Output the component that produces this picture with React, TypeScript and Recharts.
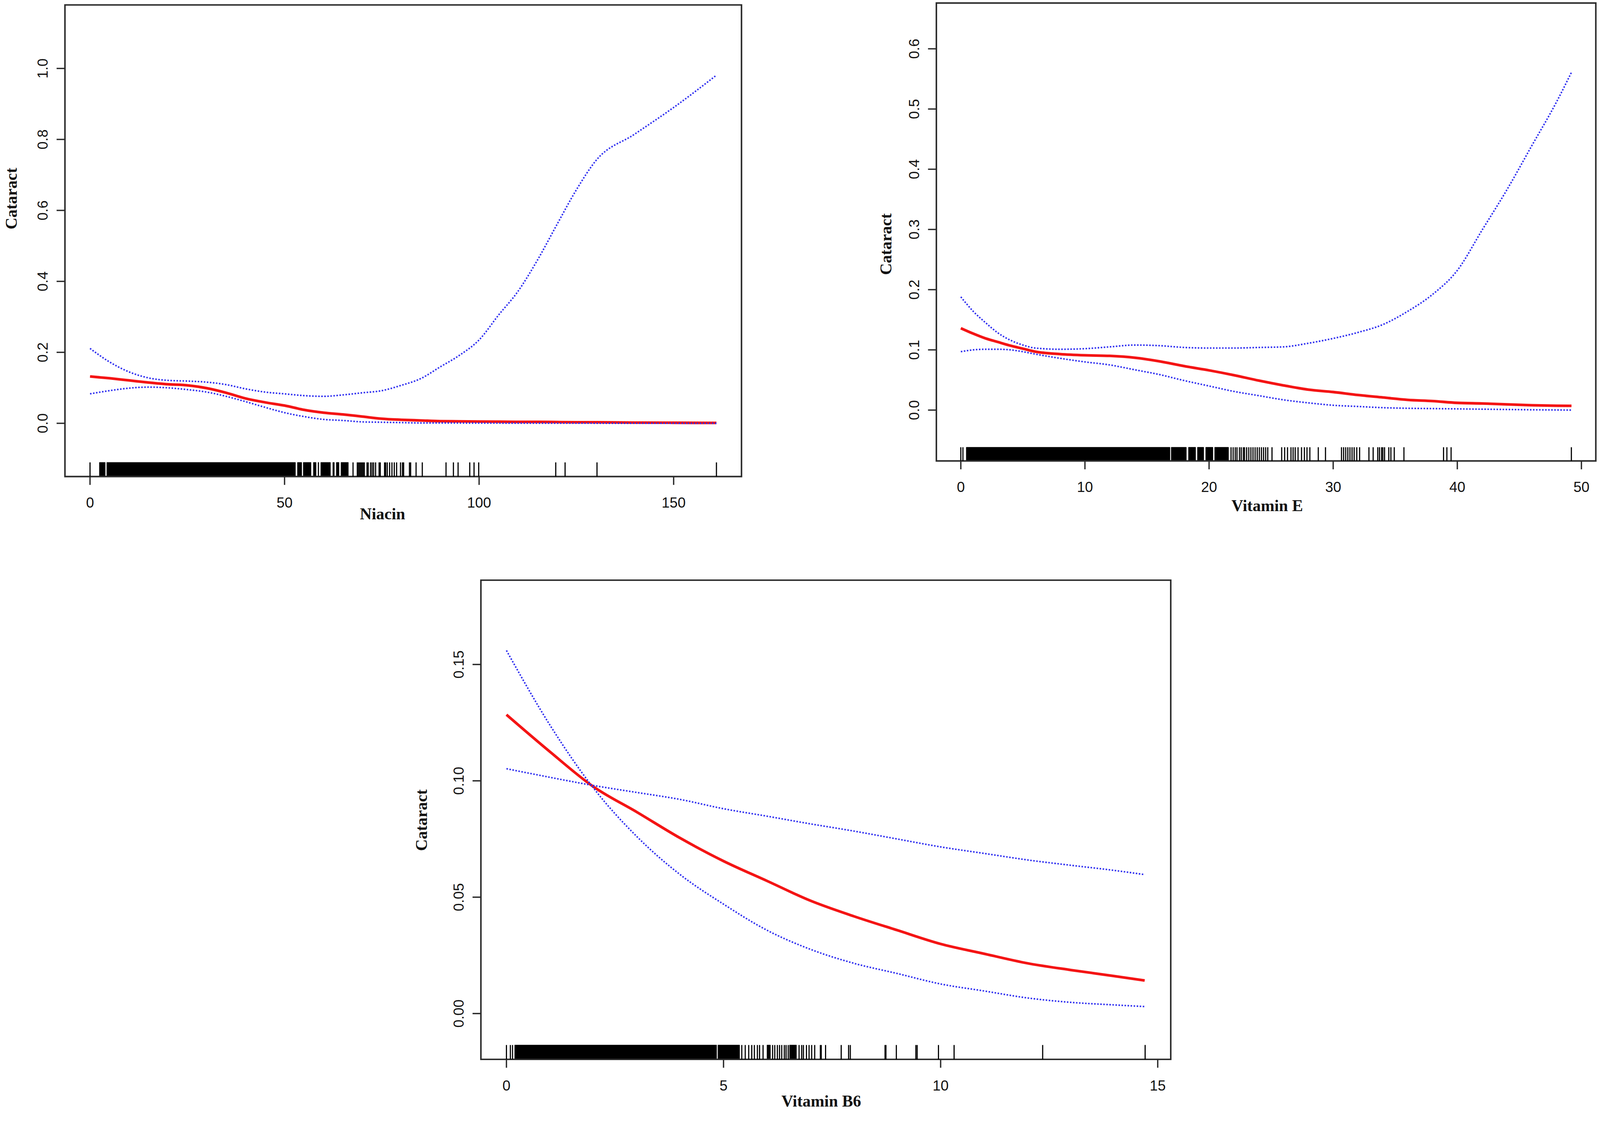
import React from 'react';
import { ComposedChart, Line, XAxis, YAxis, ReferenceLine, ReferenceArea } from 'recharts';

// ---------- Panel 1: Niacin ----------
const niacinX = [0, 5, 10, 15, 20, 25, 30, 35, 40, 45, 50, 55, 60, 65, 70, 75, 80, 85, 90, 95, 100, 105, 110, 115, 120, 125, 130, 140, 150, 161];
const niacinFit = [0.132, 0.127, 0.121, 0.115, 0.11, 0.107, 0.099, 0.086, 0.07, 0.059, 0.05, 0.038, 0.03, 0.025, 0.019, 0.013, 0.01, 0.008, 0.006, 0.0055, 0.005, 0.0045, 0.004, 0.004, 0.0035, 0.003, 0.003, 0.002, 0.0015, 0.001];
const niacinUpper = [0.211, 0.173, 0.145, 0.128, 0.121, 0.119, 0.116, 0.109, 0.097, 0.088, 0.083, 0.078, 0.076, 0.08, 0.086, 0.092, 0.107, 0.126, 0.159, 0.192, 0.235, 0.305, 0.372, 0.46, 0.56, 0.658, 0.74, 0.815, 0.89, 0.981];
const niacinLower = [0.083, 0.092, 0.099, 0.102, 0.1, 0.095, 0.088, 0.076, 0.061, 0.045, 0.03, 0.019, 0.011, 0.008, 0.004, 0.003, 0.002, 0.001, 0.001, 0.0008, 0.0006, 0.0005, 0.0004, 0.0004, 0.0003, 0.0003, 0.0002, 0.0002, 0.0001, 0.0001];
const niacinRug = [0, 67.6, 68.7, 69.0, 69.3, 69.6, 69.9, 70.2, 70.5, 71.2, 71.5, 72.1, 72.5, 72.9, 73.4, 74.3, 74.6, 75.7, 76.0, 76.4, 77.0, 77.6, 78.2, 78.8, 79.8, 80.3, 80.6, 82.1, 82.4, 83.8, 85.4, 91.5, 93.4, 94.6, 97.6, 98.7, 99.9, 119.7, 122.1, 130.3, 161.0];
const niacinRugBlocks = [[2.4, 3.9], [4.3, 52.8], [53.3, 54.4], [54.8, 56.8], [57.4, 58.1], [58.6, 58.8], [59.3, 61.8], [62.4, 62.8], [63.3, 64.0], [64.5, 66.4]];
const niacinXTicks = [0, 50, 100, 150];
const niacinYTicks = [0, 0.2, 0.4, 0.6, 0.8, 1.0];

// ---------- Panel 2: Vitamin E ----------
const vitEX = [0, 1, 2, 3, 4, 5, 6, 8, 10, 12, 14, 16, 18, 20, 22, 24, 26, 28, 30, 32, 34, 36, 38, 40, 42, 44, 46, 48, 49.2];
const vitEFit = [0.136, 0.127, 0.119, 0.113, 0.107, 0.102, 0.097, 0.093, 0.091, 0.09, 0.087, 0.081, 0.073, 0.066, 0.058, 0.049, 0.041, 0.034, 0.03, 0.025, 0.021, 0.017, 0.015, 0.012, 0.011, 0.0095, 0.008, 0.0072, 0.007];
const vitEUpper = [0.188, 0.164, 0.145, 0.128, 0.116, 0.108, 0.103, 0.101, 0.102, 0.105, 0.108, 0.107, 0.104, 0.103, 0.103, 0.104, 0.105, 0.111, 0.119, 0.129, 0.142, 0.164, 0.192, 0.232, 0.299, 0.366, 0.439, 0.512, 0.561];
const vitELower = [0.097, 0.1, 0.101, 0.101, 0.1, 0.097, 0.093, 0.086, 0.08, 0.075, 0.067, 0.059, 0.049, 0.04, 0.031, 0.024, 0.017, 0.012, 0.008, 0.006, 0.004, 0.003, 0.0025, 0.002, 0.0015, 0.001, 0.0005, 0.0002, 0];
const vitERug = [0, 0.17, 21.77, 21.94, 22.11, 22.25, 22.45, 22.59, 22.76, 22.86, 23.03, 23.2, 23.37, 23.54, 23.71, 23.88, 24.05, 24.22, 24.39, 24.56, 24.73, 25.07, 25.85, 26.09, 26.32, 26.6, 26.77, 26.94, 27.17, 27.45, 27.68, 27.89, 28.12, 28.8, 29.38, 30.67, 30.84, 31.01, 31.18, 31.35, 31.52, 31.69, 31.9, 32.13, 32.88, 33.22, 33.59, 33.73, 33.9, 34.0, 34.14, 34.48, 34.65, 34.92, 35.7, 38.89, 39.16, 39.5, 49.19];
const vitERugBlocks = [[0.44, 16.85], [16.95, 18.17], [18.34, 18.92], [19.06, 19.57], [19.73, 20.31], [20.45, 21.57]];
const vitEXTicks = [0, 10, 20, 30, 40, 50];
const vitEYTicks = [0, 0.1, 0.2, 0.3, 0.4, 0.5, 0.6];

// ---------- Panel 3: Vitamin B6 ----------
const b6X = [0, 1, 2, 3, 4, 5, 6, 7, 8, 9, 10, 11, 12, 13, 14, 14.7];
const b6Fit = [0.1284, 0.1125, 0.0975, 0.0866, 0.0754, 0.0655, 0.057, 0.0485, 0.0418, 0.0358, 0.0299, 0.0257, 0.0216, 0.0187, 0.0161, 0.0142];
const b6CiSteep = [0.156, 0.124, 0.097, 0.0761, 0.0597, 0.047, 0.0358, 0.0276, 0.0216, 0.0172, 0.0127, 0.0097, 0.0067, 0.0048, 0.0037, 0.003];
const b6CiFlat = [0.1052, 0.1015, 0.098, 0.095, 0.092, 0.088, 0.0848, 0.0815, 0.0784, 0.075, 0.0716, 0.0688, 0.066, 0.0637, 0.0615, 0.0597];
const b6Rug = [0, 0.09, 0.14, 5.42, 5.5, 5.58, 5.65, 5.71, 5.78, 5.83, 5.91, 6.13, 6.18, 6.24, 6.29, 6.34, 6.4, 6.44, 6.49, 6.74, 6.8, 6.84, 6.91, 6.97, 7.03, 7.1, 7.23, 7.25, 7.35, 7.71, 7.88, 7.92, 8.72, 8.74, 8.98, 9.43, 9.46, 9.95, 10.31, 12.35, 14.71];
const b6RugBlocks = [[0.19, 4.84], [4.87, 5.37], [6.0, 6.08], [6.52, 6.68]];
const b6XTicks = [0, 5, 10, 15];
const b6YTicks = [0, 0.05, 0.1, 0.15];

const toPts = (xs: number[], ys: number[]) => xs.map((x, i) => ({ x, y: ys[i] }));

const RED = '#f41414';
const BLUE = '#2f2ff0';
const AXIS = '#2b2b2b';
const TICK_FONT = '"Liberation Sans", Arial, sans-serif';
const TITLE_FONT = '"Liberation Serif", "Times New Roman", serif';

type PanelProps = {
  left: number; top: number; width: number; height: number;
  box: { l: number; r: number; t: number; b: number };
  xDomain: [number, number]; yDomain: [number, number];
  xTicks: number[]; yTicks: number[]; yDigits: number;
  xs: number[]; fit: number[]; ciA: number[]; ciB: number[];
  rug: number[]; rugBlocks: number[][];
};

function Panel(p: PanelProps) {
  const { box, width, height, xDomain, yDomain } = p;
  const rugTop = yDomain[0] + 0.03 * (yDomain[1] - yDomain[0]);
  const fitPts = toPts(p.xs, p.fit);
  const aPts = toPts(p.xs, p.ciA);
  const bPts = toPts(p.xs, p.ciB);
  return (
    <div style={{ position: 'absolute', left: p.left, top: p.top, width, height }}>
      <ComposedChart width={width} height={height} margin={{ top: box.t, right: width - box.r, left: 0, bottom: 0 }}>
        <XAxis
          type="number" dataKey="x" domain={xDomain} allowDataOverflow ticks={p.xTicks} interval={0}
          height={height - box.b} tickSize={22} axisLine={false}
          tickLine={{ stroke: AXIS, strokeWidth: 3.5 }}
          tick={(t: any) => (
            <text x={t.x} y={box.b + 68} dy="0.36em" textAnchor="middle" fontFamily={TICK_FONT} fontSize={38} fill="#111">
              {String(t.payload.value)}
            </text>
          )}
        />
        <YAxis
          type="number" domain={yDomain} allowDataOverflow ticks={p.yTicks} interval={0}
          width={box.l} tickSize={22} axisLine={false}
          tickLine={{ stroke: AXIS, strokeWidth: 3.5 }}
          tick={(t: any) => {
            const cx = box.l - 59;
            return (
              <text x={cx} y={t.y} dy="0.36em" textAnchor="middle" transform={`rotate(-90 ${cx} ${t.y})`}
                fontFamily={TICK_FONT} fontSize={38} fill="#111">
                {Number(t.payload.value).toFixed(p.yDigits)}
              </text>
            );
          }}
        />
        {p.rugBlocks.map((bk, i) => (
          <ReferenceArea key={'rb' + i} x1={bk[0]} x2={bk[1]} y1={yDomain[0]} y2={rugTop} fill="#000" fillOpacity={1} stroke="#000" strokeWidth={1} />
        ))}
        {p.rug.map((v, i) => (
          <ReferenceLine key={'rl' + i} segment={[{ x: v, y: yDomain[0] }, { x: v, y: rugTop }]} stroke="#000" strokeWidth={3} />
        ))}
        <Line data={fitPts} dataKey="y" type="monotone" stroke={RED} strokeWidth={7} dot={false} isAnimationActive={false} />
        <Line data={aPts} dataKey="y" type="monotone" stroke={BLUE} strokeWidth={4} strokeDasharray="4 4" dot={false} isAnimationActive={false} />
        <Line data={bPts} dataKey="y" type="monotone" stroke={BLUE} strokeWidth={4} strokeDasharray="4 4" dot={false} isAnimationActive={false} />
        <ReferenceArea x1={xDomain[0]} x2={xDomain[1]} y1={yDomain[0]} y2={yDomain[1]} fill="none" fillOpacity={0} stroke={AXIS} strokeWidth={4} ifOverflow="visible" />
      </ComposedChart>
    </div>
  );
}

function Title({ text, x, y, rotate }: { text: string; x: number; y: number; rotate?: boolean }) {
  return (
    <div style={{
      position: 'absolute', left: x, top: y, transform: `translate(-50%, -50%)${rotate ? ' rotate(-90deg)' : ''}`,
      fontFamily: TITLE_FONT, fontWeight: 'bold', fontSize: 43, lineHeight: 1, whiteSpace: 'nowrap', color: '#111',
    }}>{text}</div>
  );
}

export default function App() {
  const vw = typeof window !== 'undefined' ? window.innerWidth : 4212;
  const vh = typeof window !== 'undefined' ? window.innerHeight : 2935;
  const s = Math.min(1, vw / 4212, vh / 2935);
  return (
    <div style={{ position: 'absolute', left: 0, top: 0, width: 4212, height: 2935, background: '#fff', overflow: 'hidden', transform: `scale(${s})`, transformOrigin: '0 0' }}>
      <Panel
        left={0} top={0} width={1990} height={1400}
        box={{ l: 171, r: 1952, t: 13, b: 1255 }}
        xDomain={[-6.44, 167.44]} yDomain={[-0.15, 1.179]}
        xTicks={niacinXTicks} yTicks={niacinYTicks} yDigits={1}
        xs={niacinX} fit={niacinFit} ciA={niacinUpper} ciB={niacinLower}
        rug={niacinRug} rugBlocks={niacinRugBlocks}
      />
      <Panel
        left={2300} top={0} width={1912} height={1400}
        box={{ l: 165, r: 1901, t: 8, b: 1214 }}
        xDomain={[-1.97, 51.16]} yDomain={[-0.0845, 0.676]}
        xTicks={vitEXTicks} yTicks={vitEYTicks} yDigits={1}
        xs={vitEX} fit={vitEFit} ciA={vitEUpper} ciB={vitELower}
        rug={vitERug} rugBlocks={vitERugBlocks}
      />
      <Panel
        left={1100} top={1450} width={2000} height={1485}
        box={{ l: 166, r: 1982, t: 78, b: 1340 }}
        xDomain={[-0.588, 15.3]} yDomain={[-0.0197, 0.1862]}
        xTicks={b6XTicks} yTicks={b6YTicks} yDigits={2}
        xs={b6X} fit={b6Fit} ciA={b6CiSteep} ciB={b6CiFlat}
        rug={b6Rug} rugBlocks={b6RugBlocks}
      />
      <Title text="Cataract" x={30} y={523} rotate />
      <Title text="Niacin" x={1007} y={1353} />
      <Title text="Cataract" x={2332} y={643} rotate />
      <Title text="Vitamin E" x={3336} y={1332} />
      <Title text="Cataract" x={1109} y={2160} rotate />
      <Title text="Vitamin B6" x={2162} y={2900} />
    </div>
  );
}
